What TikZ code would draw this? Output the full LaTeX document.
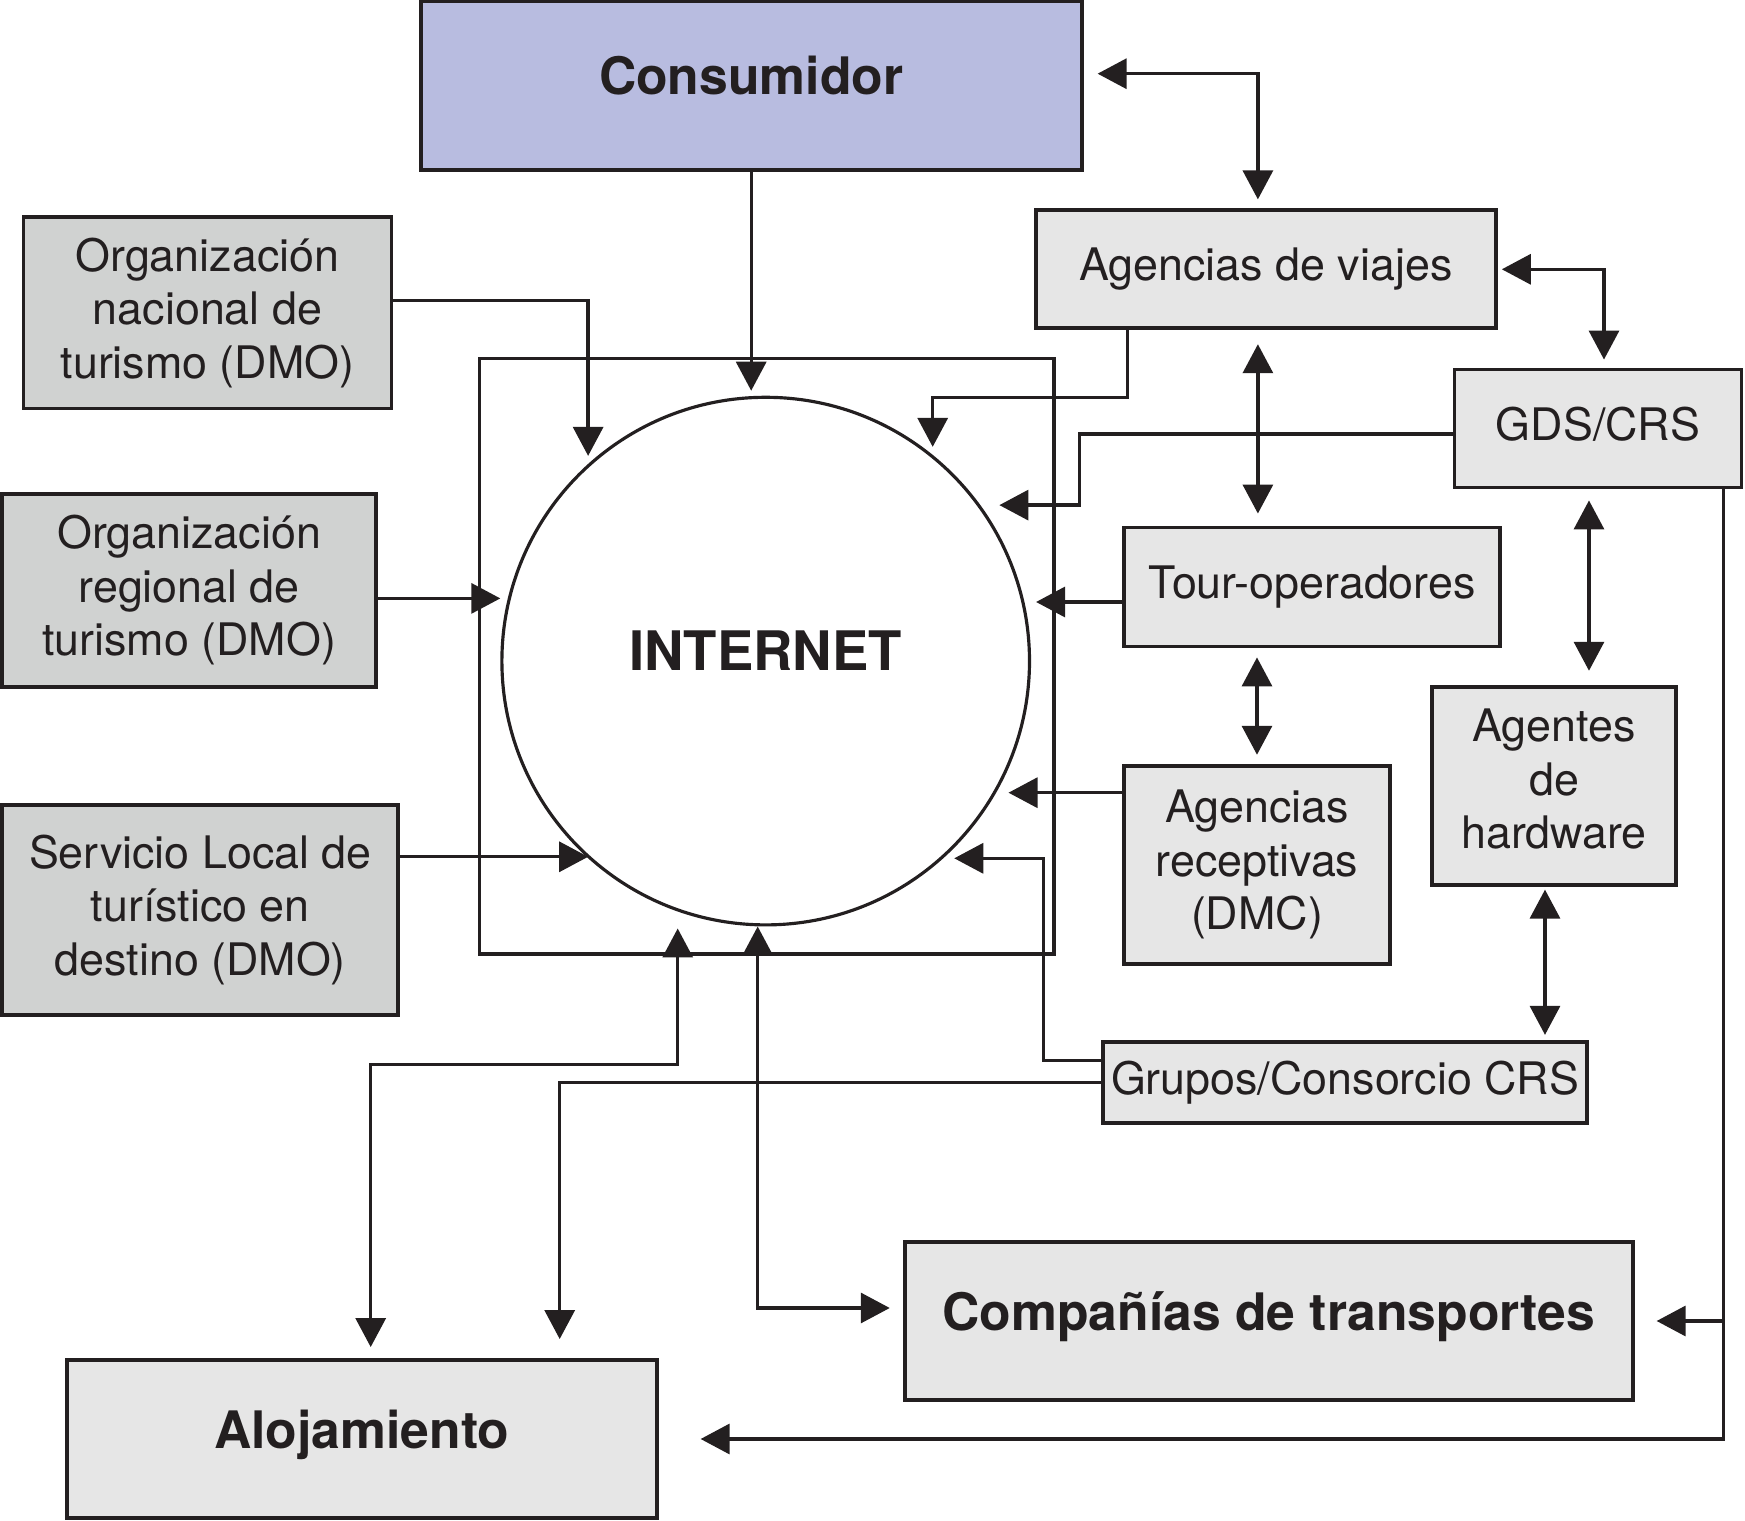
\documentclass[tikz,border=0pt]{standalone}
\usepackage{fontspec}
\setmainfont{TeX Gyre Heros}
\usetikzlibrary{arrows.meta}
\definecolor{ink}{HTML}{231F20}
\definecolor{lilac}{HTML}{B8BCE0}
\definecolor{stone}{HTML}{D0D2D1}
\definecolor{mist}{HTML}{E6E6E6}

\begin{document}
\begin{tikzpicture}[x=1cm,y=1cm,line width=.95pt,every node/.style={font=\fontsize{12.75}{15.2}\selectfont,text=ink},box/.style={draw=ink,line width=1.1pt,align=center,inner sep=0pt},dmo/.style={box,fill=stone},actor/.style={box,fill=mist},title/.style={font=\bfseries\fontsize{14.7}{17}\selectfont,text depth=2mm},link/.style={-{Triangle[length=2.9mm,width=3mm]},ink},twoway/.style={{Triangle[length=2.9mm,width=3mm]}-{Triangle[length=2.9mm,width=3mm]},ink}]
\path[use as bounding box] (0,0) rectangle (17.45,15.2);

\node[box,fill=lilac,title,minimum width=6.61cm,minimum height=1.69cm] (cons) at (7.512,14.343) {Consumidor};
\node[dmo,minimum width=3.68cm,minimum height=1.915cm] (orgnac) at (2.075,12.073) {Organización\\nacional de\\turismo (DMO)};
\node[dmo,minimum width=3.74cm,minimum height=1.926cm] (orgreg) at (1.892,9.296) {Organización\\regional de\\turismo (DMO)};
\node[dmo,minimum width=3.96cm,minimum height=2.1cm] (serv) at (2.003,6.102) {Servicio Local de\\turístico en\\destino (DMO)};
\node[actor,minimum width=4.6cm,minimum height=1.18cm] (agv) at (12.659,12.507) {Agencias de viajes};
\node[actor,minimum width=2.87cm,minimum height=1.18cm,text depth=1mm] (gds) at (15.98,10.915) {GDS/CRS};
\node[actor,minimum width=3.76cm,minimum height=1.19cm] (tour) at (13.121,9.33) {Tour-operadores};
\node[actor,minimum width=2.66cm,minimum height=1.98cm] (agr) at (12.57,6.553) {Agencias\\receptivas\\(DMC)};
\node[actor,minimum width=2.44cm,minimum height=1.98cm,text depth=1.4mm] (hw) at (15.54,7.343) {Agentes\\de\\hardware};
\node[actor,minimum width=4.84cm,minimum height=.81cm] (grp) at (13.45,4.377) {Grupos/Consorcio CRS};
\node[actor,title,minimum width=7.28cm,minimum height=1.58cm] (comp) at (12.687,1.99) {Compañías de transportes};
\node[actor,title,minimum width=5.9cm,minimum height=1.58cm] (aloj) at (3.617,.81) {Alojamiento};
\draw[ink,line width=1pt] (4.797,5.662) rectangle (10.539,11.616);
\node[circle,draw=ink,line width=.9pt,fill=white,minimum size=5.276cm,font=\bfseries\fontsize{15.5}{18}\selectfont,text depth=2mm] (inet) at (7.657,8.589) {INTERNET};

\draw[link,shorten >=.5mm] (cons.south) -- (cons.south |- inet.north);
\draw[twoway,shorten <=1.4mm,shorten >=.9mm] ([yshift=1.2mm]cons.east) -| ([xshift=-.8mm]agv.north);
\draw[link,shorten >=.8mm] ([yshift=1.2mm]orgnac.east) -| (inet.132);
\draw[link,shorten >=.8mm] ([xshift=-13.85mm]agv.south) -- ++(0,-.67) -| (inet.51);
\draw[twoway,shorten <=1.4mm,shorten >=1.2mm] ([xshift=-.8mm]agv.south) -- ([xshift=-.8mm]agv.south |- tour.north);
\draw[twoway,shorten <=.4mm,shorten >=.8mm] (agv.east) -| ([xshift=.6mm]gds.north);
\draw[link,shorten >=1.9mm] ([yshift=-.55mm]gds.west) -| ([xshift=9.9mm]inet.36) -- (inet.36);
\draw[twoway,shorten <=1.1mm,shorten >=1.4mm] ([xshift=-.9mm]gds.south) -- ([xshift=-.9mm]gds.south |- hw.north);
\draw[link,shorten >=4.2mm] ([xshift=-2mm]gds.south east) |- (aloj.east);
\draw[link,shorten >=2.2mm] ([xshift=-2mm]gds.south east |- comp.east) -- (comp.east);
\draw[link] ([yshift=-.8mm]orgreg.east) -- ([yshift=-.8mm]orgreg.east -| inet.west);
\draw[link,shorten >=.5mm] ([yshift=-1.5mm]tour.west) -- ([yshift=-1.5mm]tour.west -| inet.east);
\draw[twoway,shorten <=.9mm,shorten >=.9mm] (tour.south -| agr.north) -- (agr.north);
\draw[link,shorten >=1.3mm] ([yshift=7.2mm]agr.west) -- ([yshift=7.2mm]agr.west -| inet.-30);
\draw[twoway,shorten <=.3mm,shorten >=.5mm] ([xshift=-.9mm]hw.south) -- ([xshift=-.9mm]hw.south |- grp.north);
\draw[link,shorten >=1.1mm] ([yshift=2.2mm]grp.west) -| ([xshift=10mm]inet.-48) -- (inet.-48);
\draw[link,shorten >=1.9mm] (grp.west) -| ([xshift=19.8mm]aloj.north);
\draw[link] ([yshift=5.3mm]serv.east) -- ([yshift=5.3mm]serv.east -| inet.-132);
\draw[twoway,shorten <=1.1mm,shorten >=.2mm] ([xshift=.9mm]aloj.north) |- ([xshift=-8.8mm,yshift=-13.8mm]inet.south) -- ([xshift=-8.8mm]inet.south);
\draw[twoway,shorten <=1.3mm] ([yshift=1.3mm]comp.west) -| ([xshift=-.8mm]inet.south);

\end{tikzpicture}
\end{document}
